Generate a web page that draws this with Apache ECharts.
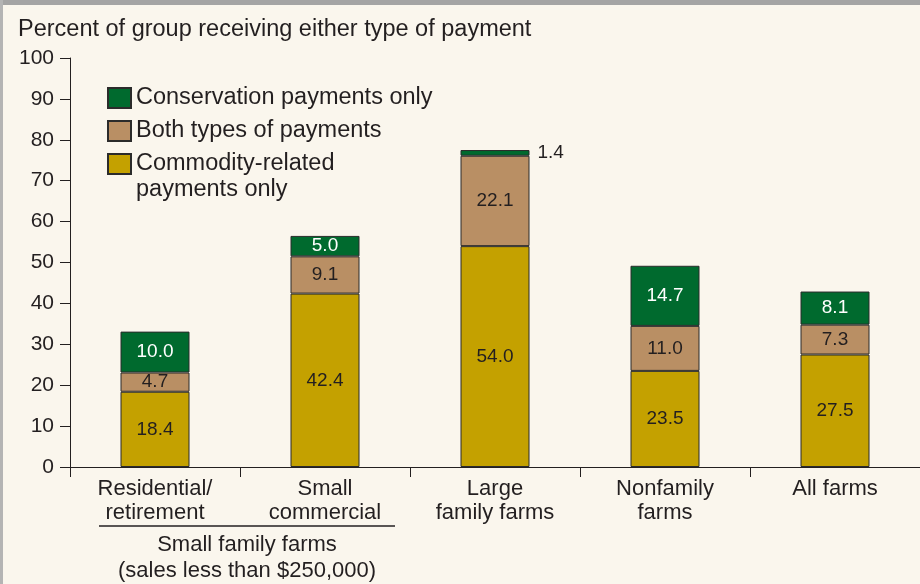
<!DOCTYPE html>
<html>
<head>
<meta charset="utf-8">
<script src="https://cdn.jsdelivr.net/npm/echarts@6/dist/echarts.min.js"></script>
<style>
	html, body { margin: 0; padding: 0; background: #faf6ed; }
	#chart { width: 920px; height: 584px; }
</style>
</head>
<body>
<div id="chart"></div>
<script>
const categories = ['Residential/\nretirement', 'Small\ncommercial', 'Large\nfamily farms', 'Nonfamily\nfarms', 'All farms'];
const commodityOnly = [18.4, 42.4, 54.0, 23.5, 27.5];
const bothTypes = [4.7, 9.1, 22.1, 11.0, 7.3];
const conservationOnly = [10.0, 5.0, 1.4, 14.7, 8.1];

const FONT = '"Liberation Sans", Arial, sans-serif';
const TEXT = '#231f20';

const chart = echarts.init(document.getElementById('chart'));

// small segments get their label outside the bar
const withOutsideLabel = (values, idx) =>
	values.map((v, i) =>
		i === idx
			? { value: v, label: { position: 'right', color: TEXT, distance: 8, formatter: (p) => p.value.toFixed(1) } }
			: v
	);

const barBase = {
	type: 'bar',
	stack: 'total',
	barWidth: 69,
	itemStyle: { borderColor: '#2b2b2b', borderWidth: 1 },
	label: {
		show: true,
		position: 'inside',
		fontFamily: FONT,
		fontSize: 19,
		color: TEXT,
		formatter: (p) => p.value.toFixed(1),
	},
};

const option = {
	backgroundColor: '#faf6ed',
	animation: false,
	textStyle: { fontFamily: FONT },
	grid: { left: 70, right: -5, top: 58, bottom: 117, containLabel: false },
	legend: {
		orient: 'vertical',
		left: 107,
		top: 86,
		padding: 0,
		icon: 'rect',
		itemWidth: 23,
		itemHeight: 20,
		itemGap: 9,
		data: ['Conservation payments only', 'Both types of payments', 'Commodity-related payments only'],
		// second line of the last entry is drawn as a graphic text below
		formatter: (name) => (name === 'Commodity-related payments only' ? 'Commodity-related' : name),
		textStyle: { fontFamily: FONT, fontSize: 23.5, color: TEXT, lineHeight: 22 },
	},
	xAxis: {
		type: 'category',
		data: categories,
		axisLine: { lineStyle: { color: '#231f20', width: 1 } },
		axisTick: { show: true, length: 10, lineStyle: { color: '#231f20' } },
		axisLabel: { fontFamily: FONT, fontSize: 22, color: TEXT, lineHeight: 24, margin: 10, interval: 0 },
	},
	yAxis: {
		type: 'value',
		min: 0,
		max: 100,
		interval: 10,
		axisLine: { show: true, lineStyle: { color: '#231f20', width: 1 } },
		axisTick: { show: true, length: 10, lineStyle: { color: '#231f20' } },
		axisLabel: { fontFamily: FONT, fontSize: 21, color: TEXT, margin: 16 },
		splitLine: { show: false },
	},
	series: [
		{
			...barBase,
			name: 'Commodity-related payments only',
			data: commodityOnly,
			itemStyle: { ...barBase.itemStyle, color: '#c4a100' },
		},
		{
			...barBase,
			name: 'Both types of payments',
			data: bothTypes,
			itemStyle: { ...barBase.itemStyle, color: '#b98f64' },
		},
		{
			...barBase,
			name: 'Conservation payments only',
			data: withOutsideLabel(conservationOnly, 2),
			itemStyle: { ...barBase.itemStyle, color: '#006a2e' },
			label: { ...barBase.label, color: '#ffffff' },
		},
	],
	graphic: [
		{ type: 'rect', left: 0, top: 0, shape: { width: 920, height: 5 }, style: { fill: '#a4a4a4' }, z: 100 },
		{ type: 'rect', left: 0, top: 0, shape: { width: 3, height: 584 }, style: { fill: '#b4b4b4' }, z: 100 },
		{
			type: 'text',
			left: 18,
			top: 18,
			style: { text: 'Percent of group receiving either type of payment', font: '23.5px ' + FONT, fill: TEXT },
		},
		{
			type: 'text',
			x: 136,
			y: 190,
			style: { text: 'payments only', font: '23.5px ' + FONT, fill: TEXT, verticalAlign: 'middle' },
		},
		{
			type: 'line',
			shape: { x1: 99, y1: 526, x2: 395, y2: 526 },
			style: { stroke: '#231f20', lineWidth: 1.5 },
		},
		{
			type: 'text',
			x: 247,
			y: 532,
			style: {
				text: 'Small family farms\n(sales less than $250,000)',
				font: '22px ' + FONT,
				fill: TEXT,
				align: 'center',
				lineHeight: 26,
			},
		},
	],
};

chart.setOption(option);
</script>
</body>
</html>
